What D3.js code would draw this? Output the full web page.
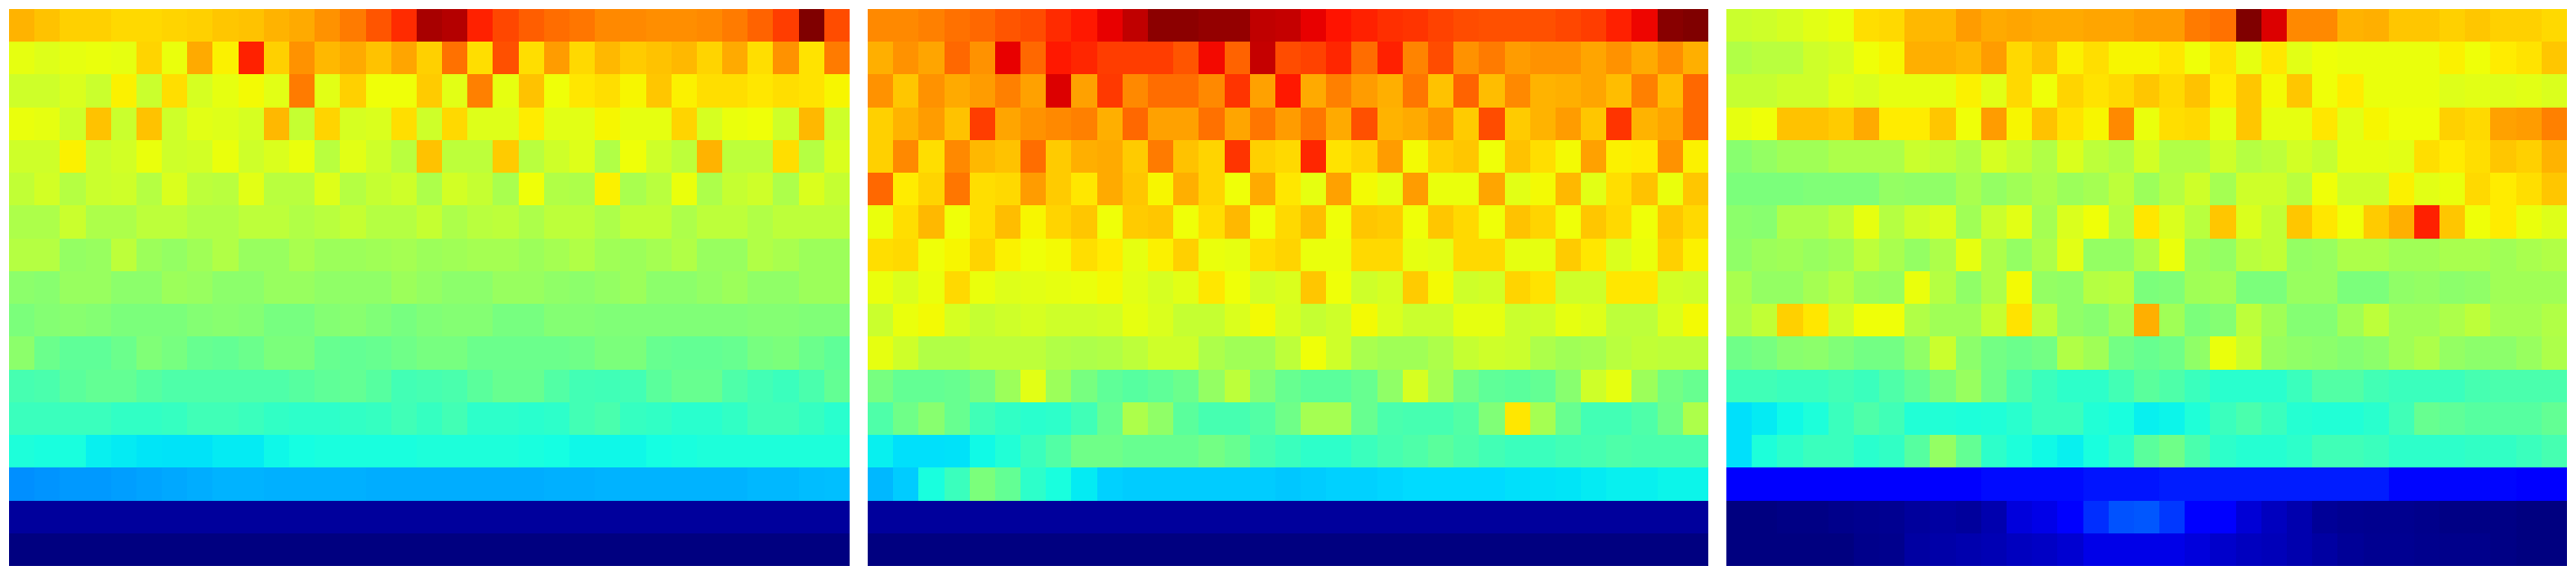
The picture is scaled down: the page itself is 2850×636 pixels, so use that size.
<!DOCTYPE html>
<html><head><meta charset="utf-8">
<script src="https://cdnjs.cloudflare.com/ajax/libs/d3/7.8.5/d3.min.js"></script>
<style>html,body{margin:0;padding:0;background:#fff}svg{display:block}</style></head>
<body><svg id="chart" width="2850" height="636"></svg>
<script>
// Cell values in thousandths of the colour range.
const panelA=[
[720,705,690,690,680,680,685,690,700,705,720,730,755,780,820,865,965,955,875,835,810,795,785,765,765,760,760,765,780,805,845,1000,830],
[630,620,630,635,630,685,635,730,655,875,690,755,715,730,705,735,690,790,675,825,675,745,680,715,695,705,715,685,730,675,755,670,780],
[600,600,615,595,655,595,675,610,630,645,625,780,625,690,640,640,695,625,775,630,705,640,665,675,650,700,655,675,675,665,675,670,650],
[635,630,600,705,595,705,600,625,620,610,715,590,685,610,615,675,600,680,620,620,660,625,625,650,630,630,685,610,635,640,600,715,600],
[600,600,655,595,605,635,600,605,635,600,615,635,575,625,600,575,705,580,580,695,575,600,620,565,640,600,580,720,580,580,675,570,615],
[585,605,570,595,600,570,615,580,575,625,575,575,620,570,590,600,560,605,590,555,640,565,560,655,555,575,635,560,590,600,560,615,590],
[560,560,595,560,560,580,580,565,565,580,580,565,575,590,570,570,590,560,575,580,560,580,580,560,585,585,560,580,580,565,580,580,580],
[570,570,530,535,580,540,530,545,565,535,535,555,540,540,545,550,540,545,550,550,540,550,565,545,540,550,565,535,535,565,555,540,540],
[520,515,535,535,520,520,540,535,520,520,535,535,525,525,525,540,530,520,520,535,535,525,520,530,540,520,520,530,540,525,525,540,540],
[500,510,515,510,500,500,500,510,515,510,495,495,510,515,505,495,505,510,510,495,495,510,510,505,505,505,505,505,505,510,510,505,505],
[520,480,465,465,480,505,495,475,470,480,500,500,475,470,475,485,495,495,480,480,480,480,485,500,500,475,470,470,475,495,500,480,465],
[435,440,460,470,470,455,445,445,445,445,445,455,465,470,455,430,435,440,460,475,475,450,430,428,430,460,475,475,445,430,420,440,470],
[420,420,420,420,410,410,415,428,428,420,410,405,405,410,415,428,415,430,405,405,400,405,430,440,415,410,400,400,410,428,428,415,400],
[385,380,380,360,355,350,348,348,355,355,368,375,380,380,380,380,385,385,385,385,380,375,368,368,368,375,380,385,385,385,385,385,385],
[265,270,275,275,280,285,290,295,300,300,298,298,298,298,295,295,295,295,295,295,295,298,298,300,300,300,300,300,300,305,305,310,312],
[25,25,25,25,25,25,25,25,25,25,25,25,25,25,25,25,25,25,25,25,25,25,25,25,25,25,25,25,25,25,25,25,25],
[0,0,0,0,0,0,0,0,0,0,0,0,0,0,0,0,0,0,0,0,0,0,0,0,0,0,0,0,0,0,0,0,0]
];
const panelB=[
[765,765,775,790,800,820,830,865,885,910,944,989,989,982,982,944,940,910,890,875,860,855,840,830,825,825,825,835,845,876,905,993,1000],
[725,755,735,800,755,910,800,885,870,845,845,845,820,900,805,940,830,840,870,795,876,770,830,755,780,745,755,755,735,755,730,760,725],
[755,700,755,730,745,775,740,920,740,850,765,795,795,765,855,740,885,730,775,745,725,785,705,805,710,765,720,725,735,710,775,710,800],
[690,720,745,705,845,735,755,765,775,725,800,740,740,790,735,785,745,785,730,825,720,730,755,695,830,695,720,745,700,855,720,735,800],
[690,765,675,765,715,705,795,695,725,730,695,780,705,685,855,690,680,870,670,685,745,645,690,700,640,705,675,645,740,655,660,755,655],
[800,660,685,785,675,680,745,695,665,730,700,650,725,685,640,730,665,630,740,645,630,745,635,635,735,625,645,715,625,675,705,635,700],
[635,675,715,640,675,710,650,685,700,640,695,700,640,675,715,640,680,710,640,700,695,640,700,680,640,705,685,640,700,680,640,700,680],
[675,680,640,650,685,655,640,645,675,660,630,655,690,635,630,675,685,635,635,680,680,630,625,680,680,630,630,695,665,615,635,690,655],
[635,615,635,680,635,620,625,630,635,645,625,610,625,665,640,605,615,700,640,600,610,695,645,600,605,685,670,600,600,665,665,605,600],
[595,635,645,610,590,600,610,600,600,605,630,615,590,590,615,645,610,590,600,645,615,595,595,630,630,595,600,630,620,580,580,615,645],
[630,600,565,565,580,580,580,565,560,565,580,600,600,560,545,545,580,640,600,555,545,545,560,590,600,595,560,545,550,575,585,580,580],
[495,470,470,475,495,540,625,540,495,465,455,465,480,530,580,510,475,460,460,475,525,610,550,490,465,460,470,515,600,630,540,490,475],
[445,485,515,475,428,410,400,405,428,475,560,525,460,435,435,450,485,550,550,475,440,435,435,450,505,665,550,475,430,430,445,485,560],
[360,345,345,347,370,390,420,450,485,485,475,475,475,490,475,435,420,405,405,420,435,445,460,445,430,420,420,430,435,445,440,440,440],
[305,325,380,420,500,470,405,380,355,330,325,325,325,325,325,325,320,325,330,330,335,340,340,340,340,345,347,350,355,360,360,365,365],
[25,25,25,25,25,25,25,25,25,25,25,25,25,25,25,25,25,25,25,25,25,25,25,25,25,25,25,25,25,25,25,25,25],
[0,0,0,0,0,0,0,0,0,0,0,0,0,0,0,0,0,0,0,0,0,0,0,0,0,0,0,0,0,0,0,0,0]
];
const panelC=[
[595,600,610,625,635,675,680,715,715,745,730,735,730,730,735,735,745,745,780,790,1000,920,765,765,720,725,700,700,690,700,690,690,680],
[565,575,575,600,610,640,650,725,725,715,745,680,705,655,675,650,650,665,640,670,630,665,625,640,635,635,635,635,655,640,660,670,700],
[590,590,600,600,625,615,630,630,630,655,625,680,640,685,670,680,700,680,705,660,700,645,700,640,660,635,635,635,620,625,620,625,615],
[630,640,705,705,695,730,660,660,700,640,745,650,705,670,650,765,635,675,680,630,700,630,630,665,625,650,640,640,690,680,740,745,775],
[515,530,545,545,560,560,560,595,585,565,610,590,565,615,580,565,605,565,565,600,570,580,605,590,630,630,625,675,660,675,700,690,720],
[500,500,500,505,505,505,530,525,525,555,530,545,560,540,550,580,540,570,600,550,600,600,575,640,600,600,655,625,635,680,660,675,700],
[520,515,560,560,580,630,570,600,615,545,595,625,550,615,640,570,665,615,575,700,615,585,700,665,640,695,725,876,700,640,660,635,620],
[525,540,545,535,545,580,555,530,560,630,560,530,560,625,530,530,565,635,540,530,575,585,530,535,560,560,545,545,555,555,545,555,565],
[555,530,530,550,570,540,535,635,570,525,560,645,530,525,570,575,500,505,545,550,500,500,535,535,500,500,525,530,520,525,545,545,545],
[560,585,690,665,600,640,640,565,545,545,590,670,580,525,515,545,725,545,500,510,580,545,510,510,545,580,545,545,560,580,550,550,565],
[485,495,515,520,505,490,490,525,595,520,490,480,490,565,545,490,475,485,525,635,595,535,525,520,510,520,545,560,530,520,520,535,560],
[428,428,420,420,430,420,445,470,500,535,485,445,420,405,405,430,460,445,420,400,400,400,420,450,450,430,420,420,420,435,440,440,440],
[345,355,370,385,420,445,428,390,390,385,388,400,420,420,390,380,360,365,388,420,440,420,395,390,390,400,428,475,465,455,455,455,470],
[345,385,405,420,420,400,410,455,530,470,405,385,370,360,380,405,460,485,440,405,395,395,405,428,428,420,405,405,405,410,410,420,435],
[120,120,120,120,120,120,120,120,120,120,135,135,135,135,145,145,145,152,152,152,152,152,152,152,152,152,130,130,130,130,130,110,110],
[0,0,5,5,10,13,15,25,30,25,40,80,90,110,170,205,210,180,115,110,75,55,40,20,15,13,13,10,5,5,5,0,0],
[0,0,0,0,0,10,12,30,35,40,45,55,60,70,90,90,90,90,80,65,55,50,40,30,20,15,15,12,10,10,5,0,0]
];
const panels=[panelA,panelB,panelC];

const W=2850,H=636,panelW=930,gap=20,left=10,top0=10,bottom=626;
const jetR=d3.scaleLinear().domain([0,.35,.66,.89,1]).range([0,0,1,1,.5]).clamp(true);
const jetG=d3.scaleLinear().domain([0,.125,.375,.64,.91,1]).range([0,0,1,1,0,0]).clamp(true);
const jetB=d3.scaleLinear().domain([0,.11,.34,.65,1]).range([.5,1,1,0,0]).clamp(true);
const value=d3.scaleLinear().domain([0,1000]).range([0,1]);
const jet=v=>{const t=value(v);return d3.rgb(255*jetR(t),255*jetG(t),255*jetB(t)).formatHex();};

const svg=d3.select("#chart");
const cols=d3.range(panelA[0].length),rows=d3.range(panelA.length);
const y=d3.scaleBand().domain(rows).range([top0,bottom]);
const panelX=d3.scaleLinear().domain([0,1]).range([left,left+panelW+gap]);
panels.forEach((data,p)=>{
  const x=d3.scaleBand().domain(cols).range([panelX(p),panelX(p)+panelW]);
  const cells=data.flatMap((row,r)=>row.map((v,c)=>({r,c,v})));
  svg.append("g").selectAll("rect").data(cells).join("rect")
    .attr("x",d=>Math.round(x(d.c)))
    .attr("y",d=>Math.round(y(d.r)))
    .attr("width",d=>Math.round(x(d.c)+x.bandwidth())-Math.round(x(d.c)))
    .attr("height",d=>Math.round(y(d.r)+y.bandwidth())-Math.round(y(d.r)))
    .attr("fill",d=>jet(d.v))
    .attr("shape-rendering","crispEdges");
});
</script></body></html>
